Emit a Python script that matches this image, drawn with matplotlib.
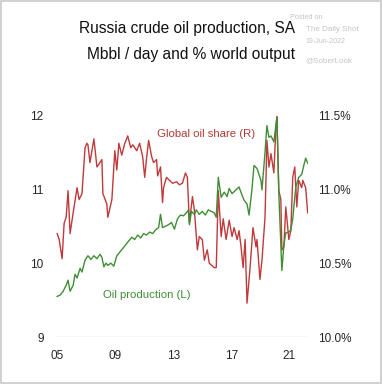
import matplotlib
matplotlib.use("Agg")
import matplotlib.pyplot as plt
from matplotlib.patches import Rectangle

plt.rcParams['font.family'] = ['Liberation Sans', 'DejaVu Sans']

# Global oil share (%), right axis
share_years = [2005.00, 2005.14, 2005.34, 2005.48, 2005.62, 2005.75, 2005.89, 2006.10, 2006.37, 2006.51,
               2006.71, 2006.92, 2007.05, 2007.12, 2007.26, 2007.53, 2007.74, 2007.95, 2008.08, 2008.15,
               2008.42, 2008.49, 2008.77, 2008.97, 2009.11, 2009.25, 2009.45, 2009.66, 2009.86, 2010.07,
               2010.21, 2010.48, 2010.68, 2010.89, 2011.03, 2011.16, 2011.30, 2011.51, 2011.64, 2011.85,
               2011.92, 2012.12, 2012.26, 2012.33, 2012.53, 2012.74, 2012.95, 2013.22, 2013.42, 2013.63,
               2013.84, 2013.97, 2014.11, 2014.32, 2014.45, 2014.66, 2014.79, 2015.00, 2015.14, 2015.34,
               2015.48, 2015.82, 2015.96, 2016.10, 2016.30, 2016.44, 2016.64, 2016.85, 2017.05, 2017.19,
               2017.40, 2017.53, 2017.67, 2017.81, 2017.95, 2018.08, 2018.29, 2018.49, 2018.70, 2018.77,
               2018.97, 2019.11, 2019.32, 2019.45, 2019.59, 2019.73, 2019.93, 2020.07, 2020.14, 2020.27,
               2020.41, 2020.48, 2020.62, 2020.75, 2020.82, 2020.96, 2021.10, 2021.23, 2021.37, 2021.51,
               2021.64, 2021.85, 2021.92, 2022.12, 2022.26]
share_values = [10.70, 10.66, 10.53, 10.77, 10.81, 10.99, 10.70, 10.84, 11.01, 10.93,
                10.97, 11.28, 11.31, 11.30, 11.18, 11.34, 11.15, 11.18, 11.20, 10.97,
                10.90, 10.81, 10.93, 11.26, 11.13, 11.31, 11.23, 11.31, 11.36, 11.28,
                11.30, 11.26, 11.31, 11.22, 11.08, 11.21, 11.33, 11.22, 11.18, 11.20,
                11.09, 11.15, 10.91, 11.01, 11.08, 11.06, 11.04, 11.05, 11.03, 11.04,
                11.11, 11.08, 10.77, 10.95, 10.86, 10.59, 10.68, 10.66, 10.52, 10.59,
                10.50, 10.47, 10.47, 10.99, 10.68, 10.80, 10.66, 10.79, 10.68, 10.74,
                10.66, 10.72, 10.61, 10.47, 10.66, 10.23, 10.47, 10.74, 10.61, 10.66,
                10.39, 10.52, 10.81, 11.33, 11.15, 11.24, 11.11, 11.42, 11.49, 10.99,
                10.93, 10.59, 10.61, 10.88, 10.81, 10.66, 10.72, 11.08, 11.15, 10.88,
                11.06, 11.01, 11.06, 11.01, 10.84]

# Oil production (Mbbl/day), left axis
prod_years = [2005.00, 2005.21, 2005.41, 2005.62, 2005.75, 2005.89, 2006.10, 2006.23, 2006.37, 2006.58,
              2006.71, 2006.92, 2007.12, 2007.33, 2007.53, 2007.74, 2007.95, 2008.08, 2008.22, 2008.36,
              2008.49, 2008.70, 2008.90, 2009.11, 2009.32, 2009.52, 2009.73, 2009.93, 2010.14, 2010.34,
              2010.55, 2010.75, 2010.96, 2011.16, 2011.37, 2011.58, 2011.78, 2011.99, 2012.12, 2012.26,
              2012.47, 2012.67, 2012.88, 2013.08, 2013.29, 2013.49, 2013.70, 2013.90, 2014.04, 2014.11,
              2014.25, 2014.45, 2014.59, 2014.79, 2015.00, 2015.21, 2015.41, 2015.62, 2015.82, 2015.96,
              2016.10, 2016.30, 2016.51, 2016.71, 2016.85, 2017.05, 2017.26, 2017.53, 2017.74, 2017.88,
              2018.08, 2018.22, 2018.42, 2018.56, 2018.77, 2018.90, 2019.04, 2019.11, 2019.32, 2019.45,
              2019.59, 2019.73, 2019.93, 2020.14, 2020.27, 2020.48, 2020.62, 2020.75, 2020.96, 2021.10,
              2021.23, 2021.44, 2021.64, 2021.85, 2021.99, 2022.12, 2022.26]
prod_values = [9.55, 9.57, 9.62, 9.70, 9.77, 9.62, 9.70, 9.85, 9.80, 9.93,
               9.88, 10.04, 10.10, 10.05, 10.10, 10.06, 10.12, 10.08, 9.95, 10.00,
               9.97, 10.00, 9.96, 10.10, 10.15, 10.20, 10.25, 10.30, 10.35, 10.32,
               10.38, 10.34, 10.40, 10.38, 10.42, 10.40, 10.45, 10.48, 10.66, 10.48,
               10.50, 10.52, 10.55, 10.46, 10.60, 10.65, 10.64, 10.68, 10.72, 10.52,
               10.70, 10.66, 10.72, 10.66, 10.70, 10.65, 10.72, 10.70, 10.68, 10.62,
               11.16, 10.89, 10.96, 10.90, 11.01, 10.94, 10.98, 11.03, 10.92, 10.85,
               10.80, 10.65, 11.00, 11.32, 11.28, 11.20, 11.12, 10.99, 11.50, 11.86,
               11.70, 11.72, 11.64, 11.97, 10.95, 9.90, 10.25, 10.41, 10.42, 10.45,
               10.60, 11.03, 11.16, 11.20, 11.32, 11.42, 11.35]

x_ticks = [2005, 2009, 2013, 2017, 2021]
x_tick_labels = ['05', '09', '13', '17', '21']
left_ticks = [9, 10, 11, 12]
right_ticks = [10.0, 10.5, 11.0, 11.5]

RED = '#C0393B'
GREEN = '#3F8E35'
TXT = '#262626'

fig = plt.figure(figsize=(3.82, 3.84), dpi=100)
fig.patch.set_facecolor('white')
fig.patches.append(Rectangle((0.002, 0.002), 0.996, 0.996, transform=fig.transFigure,
                             fill=False, edgecolor='#C8C8C8', linewidth=1.2))

ax = fig.add_axes([0.147, 0.122, 0.66, 0.578])
ax2 = ax.twinx()

ax.plot(prod_years, prod_values, color=GREEN, lw=1.0, zorder=3)
ax2.plot(share_years, share_values, color=RED, lw=1.0, zorder=2)
ax.set_zorder(ax2.get_zorder() + 1)
ax.patch.set_visible(False)

ax.set_xlim(2004.93, 2022.3)
ax.set_ylim(9, 12)
ax2.set_ylim(10, 11.5)

ax.set_xticks(x_ticks)
ax.set_xticklabels(x_tick_labels)
ax.set_yticks(left_ticks)
ax.set_yticklabels([str(v) for v in left_ticks])
ax2.set_yticks(right_ticks)
ax2.set_yticklabels([f'{v:.1f}%' for v in right_ticks])

for a in (ax, ax2):
    for s in a.spines.values():
        s.set_visible(False)
    a.tick_params(length=0, labelsize=8.5, colors=TXT, pad=9)
ax2.tick_params(axis='y', pad=7)
ax.tick_params(axis='x', pad=9)
ax.axhline(9, color='#D9D9D9', lw=1.0, zorder=1)

ax.text(2011.9, 11.75, 'Global oil share (R)', color='#B03A35', fontsize=8.2, va='center', ha='left')
ax.text(2008.15, 9.57, 'Oil production (L)', color=GREEN, fontsize=8.2, va='center', ha='left')

fig.text(0.772, 0.927, 'Russia crude oil production, SA', ha='right', va='center', fontsize=11.2, color='#111111')
fig.text(0.772, 0.857, 'Mbbl / day and % world output', ha='right', va='center', fontsize=11.2, color='#111111')

wm = '#C4C4C4'
fig.text(0.76, 0.955, 'Posted on', fontsize=5.2, color=wm, ha='left', va='center')
fig.text(0.80, 0.923, 'The Daily Shot', fontsize=5.8, color=wm, ha='left', va='center')
fig.text(0.80, 0.892, '19-Jun-2022', fontsize=5.0, color=wm, ha='left', va='center')
fig.text(0.80, 0.842, '@SoberLook', fontsize=5.8, color=wm, ha='left', va='center')

fig.savefig('out.png', dpi=100, facecolor='white')
